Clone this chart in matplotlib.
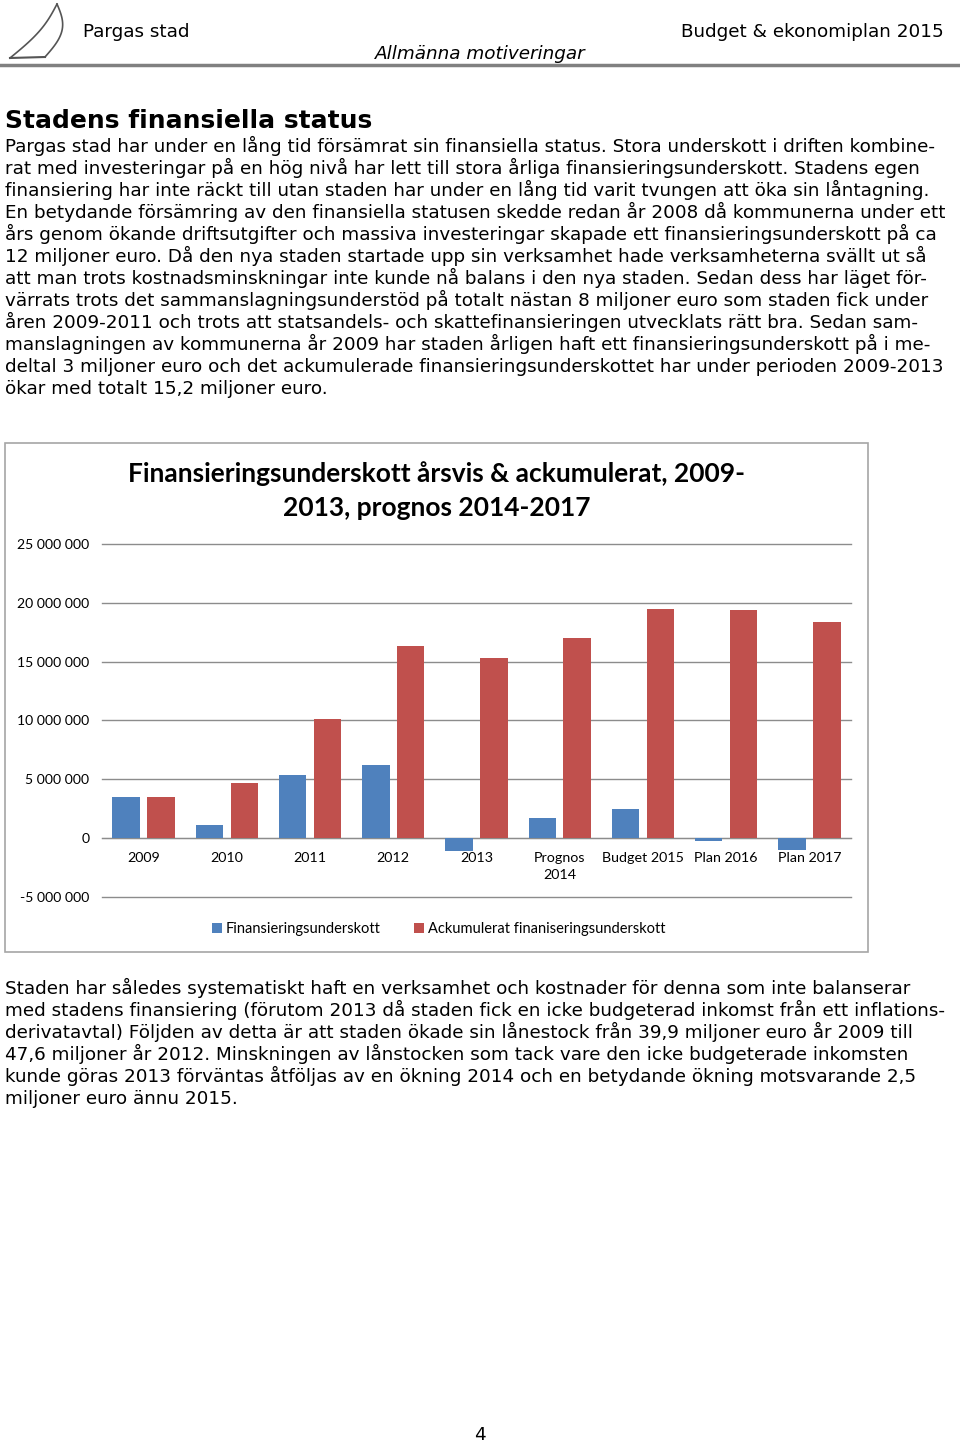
import matplotlib
matplotlib.use("Agg")
import matplotlib.pyplot as plt
from matplotlib.patches import Rectangle
from matplotlib.lines import Line2D
import numpy as np

W, H = 960, 1444

# chart data
categories = ["2009", "2010", "2011", "2012", "2013", "Prognos\n2014",
              "Budget 2015", "Plan 2016", "Plan 2017"]
underskott = [3.5e6, 1.1e6, 5.4e6, 6.2e6, -1.1e6, 1.7e6, 2.45e6, -0.25e6, -1.0e6]
ackumulerat = [3.5e6, 4.65e6, 10.1e6, 16.3e6, 15.3e6, 17.0e6, 19.5e6, 19.35e6, 18.35e6]
yticks = [-5e6, 0, 5e6, 10e6, 15e6, 20e6, 25e6]

para1 = [
    "Pargas stad har under en lång tid försämrat sin finansiella status. Stora underskott i driften kombine-",
    "rat med investeringar på en hög nivå har lett till stora årliga finansieringsunderskott. Stadens egen",
    "finansiering har inte räckt till utan staden har under en lång tid varit tvungen att öka sin låntagning.",
    "En betydande försämring av den finansiella statusen skedde redan år 2008 då kommunerna under ett",
    "års genom ökande driftsutgifter och massiva investeringar skapade ett finansieringsunderskott på ca",
    "12 miljoner euro. Då den nya staden startade upp sin verksamhet hade verksamheterna svällt ut så",
    "att man trots kostnadsminskningar inte kunde nå balans i den nya staden. Sedan dess har läget för-",
    "värrats trots det sammanslagningsunderstöd på totalt nästan 8 miljoner euro som staden fick under",
    "åren 2009-2011 och trots att statsandels- och skattefinansieringen utvecklats rätt bra. Sedan sam-",
    "manslagningen av kommunerna år 2009 har staden årligen haft ett finansieringsunderskott på i me-",
    "deltal 3 miljoner euro och det ackumulerade finansieringsunderskottet har under perioden 2009-2013",
    "ökar med totalt 15,2 miljoner euro.",
]
para2 = [
    "Staden har således systematiskt haft en verksamhet och kostnader för denna som inte balanserar",
    "med stadens finansiering (förutom 2013 då staden fick en icke budgeterad inkomst från ett inflations-",
    "derivatavtal) Följden av detta är att staden ökade sin lånestock från 39,9 miljoner euro år 2009 till",
    "47,6 miljoner år 2012. Minskningen av lånstocken som tack vare den icke budgeterade inkomsten",
    "kunde göras 2013 förväntas åtföljas av en ökning 2014 och en betydande ökning motsvarande 2,5",
    "miljoner euro ännu 2015.",
]

blue = "#4F81BD"
red = "#C0504D"
grid = "#8c8c8c"


def fx(x):
    return x / W


def fy(y):
    return 1 - y / H


fig = plt.figure(figsize=(9.6, 14.44), dpi=100)
fig.patch.set_facecolor("white")

# header
fig.text(fx(83), fy(37), "Pargas stad", fontsize=13.2, ha="left", va="baseline")
fig.text(fx(944), fy(37), "Budget & ekonomiplan 2015", fontsize=13.2, ha="right", va="baseline")
fig.text(fx(480), fy(59), "Allmänna motiveringar", fontsize=13.2, style="italic",
         ha="center", va="baseline")
fig.add_artist(Line2D([0, 1], [fy(65), fy(65)], color="#808080", lw=2.5))

# logo (sail)
t = np.linspace(0, 1, 30)
ly = 4 + 54 * t
lx = 57 - 47 * t + 6 * np.sin(np.pi * t)
fig.add_artist(Line2D(fx(lx), fy(ly), color="#555555", lw=1.2))
rx = 57 + 11 * np.sin(np.pi * t) - 12 * t
ry = 4 + 53 * t
fig.add_artist(Line2D(fx(rx), fy(ry), color="#555555", lw=1.2))
fig.add_artist(Line2D(fx(np.array([10, 45])), fy(np.array([58, 57])), color="#555555", lw=1.5))

# heading + body
fig.text(fx(5), fy(128), "Stadens finansiella status", fontsize=18, fontweight="bold",
         ha="left", va="baseline")
for i, line in enumerate(para1):
    fig.text(fx(5), fy(152 + 22 * i), line, fontsize=13.2, ha="left", va="baseline")
for i, line in enumerate(para2):
    fig.text(fx(5), fy(994 + 22 * i), line, fontsize=13.2, ha="left", va="baseline")
fig.text(fx(480), fy(1440), "4", fontsize=13.2, ha="center", va="baseline")

# chart frame
fig.add_artist(Rectangle((fx(5), fy(952)), fx(863), (952 - 443) / H,
                         fill=False, edgecolor="#a6a6a6", lw=1.2))

ax = fig.add_axes([fx(102), fy(897), fx(851 - 102), (897 - 544) / H])
x = np.arange(len(categories))
bw = 0.33
ax.bar(x - 0.21, underskott, bw, color=blue, label="Finansieringsunderskott", zorder=3)
ax.bar(x + 0.21, ackumulerat, bw, color=red, label="Ackumulerat finaniseringsunderskott", zorder=3)
ax.set_xlim(-0.5, len(categories) - 0.5)
ax.set_ylim(-5e6, 25e6)
ax.set_yticks(yticks)
ax.set_yticklabels([f"{v:,.0f}".replace(",", " ") for v in yticks], family="Lato", fontsize=10.1)
ax.yaxis.grid(True, color=grid, lw=1, zorder=0)
for gl in ax.get_ygridlines():
    gl.set_clip_on(False)
ax.tick_params(axis="y", length=0, pad=9)
for s in ["top", "right", "left"]:
    ax.spines[s].set_visible(False)
ax.spines["bottom"].set_position(("data", 0))
ax.spines["bottom"].set_color(grid)
ax.set_xticks(x)
ax.set_xticklabels(categories, family="Lato", fontsize=10.3, linespacing=1.45)
ax.tick_params(axis="x", length=0, pad=10)

fig.text(fx(437), fy(491), "Finansieringsunderskott årsvis & ackumulerat, 2009-\n2013, prognos 2014-2017",
         family="Lato", fontsize=19, fontweight="bold", ha="center", va="center", linespacing=1.5)
fig.legend(loc="center", bbox_to_anchor=(fx(439), fy(929)), ncol=2, frameon=False,
           prop={"family": "Lato", "size": 10.5}, handlelength=0.65, handleheight=0.65,
           handletextpad=0.3, columnspacing=2.3)

fig.savefig("out.png", dpi=100)
